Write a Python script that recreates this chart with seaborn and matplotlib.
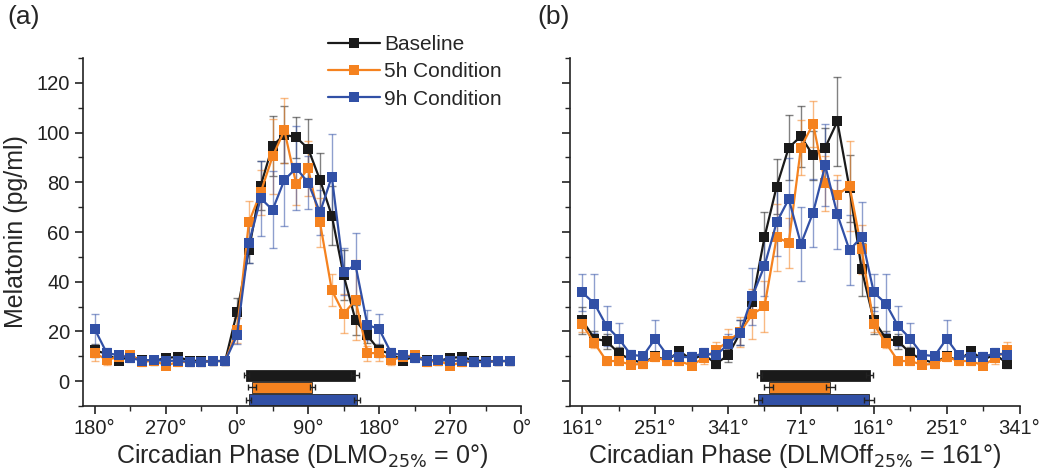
import numpy as np
import pandas as pd
import matplotlib
matplotlib.use('Agg')
import matplotlib.pyplot as plt
from matplotlib.ticker import MultipleLocator
import seaborn as sns

# phase grid, 15 degree steps, double plotted from -180 to 345
phase = np.arange(-180, 360, 15)

conditions = ['Baseline', '5h Condition', '9h Condition']
colors = ['#1a1a1a', '#f5821f', '#3150a6']

# panel (a): aligned to DLMO25%
a_base = [12.4, 11.0, 8.3, 10.0, 8.6, 8.1, 9.4, 9.7, 8.3, 8.1, 8.1, 8.1,
          27.8, 52.7, 78.7, 94.7, 99.2, 98.1, 93.6, 81.0, 66.6, 42.6, 24.5, 18.4,
          12.4, 11.0, 8.3, 10.0, 8.6, 8.1, 9.4, 9.7, 8.3, 8.1, 8.1, 8.1]
a_base_err = [2.5, 2, 1.5, 1.5, 1.5, 1.5, 1.5, 1.5, 1.5, 1.5, 1.5, 1.5,
              5.7, 5, 10, 12, 11.4, 8.2, 12, 10.8, 12, 10, 6, 3,
              2.5, 2, 1.5, 1.5, 1.5, 1.5, 1.5, 1.5, 1.5, 1.5, 1.5, 1.5]
a_5h = [11.3, 8.6, 9.7, 10.6, 7.7, 8.3, 6.3, 7.7, 7.7, 7.7, 8.1, 8.1,
        20.4, 63.9, 76.0, 90.4, 100.9, 79.2, 85.6, 63.9, 36.6, 27.2, 32.6, 11.3,
        11.3, 8.6, 9.7, 10.6, 7.7, 8.3, 6.3, 7.7, 7.7, 7.7, 8.1, 8.1]
a_5h_err = [3, 2, 1.5, 1.5, 1.5, 1.5, 1.5, 1.5, 1.5, 1.5, 1.5, 1.5,
            5, 8.7, 9, 15, 13, 8.5, 11, 10, 6.5, 8, 16, 3,
            3, 2, 1.5, 1.5, 1.5, 1.5, 1.5, 1.5, 1.5, 1.5, 1.5, 1.5]
a_9h = [20.9, 11.4, 10.4, 9.3, 8.3, 8.6, 8.1, 8.3, 7.7, 7.7, 8.1, 8.1,
        18.4, 55.4, 73.6, 68.9, 81.0, 85.7, 79.9, 67.9, 82.3, 44.0, 46.7, 22.7,
        20.9, 11.4, 10.4, 9.3, 8.3, 8.6, 8.1, 8.3, 7.7, 7.7, 8.1, 8.1]
a_9h_err = [6.3, 2, 1.5, 1.5, 1.5, 1.5, 1.5, 1.5, 1.5, 1.5, 1.5, 1.5,
            3.5, 8, 15, 15.5, 18.5, 17, 10.8, 9, 17, 9.5, 13, 6,
            6.3, 2, 1.5, 1.5, 1.5, 1.5, 1.5, 1.5, 1.5, 1.5, 1.5, 1.5]

# panel (b): aligned to DLMOff25%
b_base = [24.5, 17.1, 16.1, 11.3, 8.6, 7.4, 10.0, 8.3, 12.1, 8.6, 10.8, 7.0,
          10.4, 19.5, 31.9, 57.9, 78.3, 94.0, 98.5, 90.8, 94.0, 104.5, 77.6, 45.0,
          24.5, 17.1, 16.1, 11.3, 8.6, 7.4, 10.0, 8.3, 12.1, 8.6, 10.8, 7.0]
b_base_err = [5.5, 3, 3, 2.5, 1.5, 1.5, 1.5, 1.5, 1.5, 1.5, 1.5, 1.5,
              2.5, 5, 4, 10, 11, 13, 12.4, 10, 8, 18, 13.5, 10.7,
              5.5, 3, 3, 2.5, 1.5, 1.5, 1.5, 1.5, 1.5, 1.5, 1.5, 1.5]
b_5h = [22.9, 15.3, 8.1, 8.1, 6.6, 7.0, 9.7, 8.1, 8.1, 6.3, 9.4, 12.4,
        16.1, 19.8, 26.9, 30.1, 57.9, 55.7, 94.0, 103.6, 79.6, 74.9, 78.6, 53.0,
        22.9, 15.3, 8.1, 8.1, 6.6, 7.0, 9.7, 8.1, 8.1, 6.3, 9.4, 12.4]
b_5h_err = [3, 2, 1.5, 1.5, 1.5, 1.5, 1.5, 1.5, 1.5, 1.5, 2.5, 3.5,
            5, 6, 10, 10.4, 13.5, 10, 11, 9.3, 11, 8, 18, 10,
            3, 2, 1.5, 1.5, 1.5, 1.5, 1.5, 1.5, 1.5, 1.5, 2.5, 3.5]
b_9h = [35.7, 31.2, 22.2, 17.1, 10.6, 10.1, 17.1, 10.4, 9.7, 9.7, 11.3, 10.4,
        14.8, 19.5, 34.2, 46.4, 63.9, 73.3, 55.2, 67.8, 86.8, 67.1, 52.7, 58.1,
        35.7, 31.2, 22.2, 17.1, 10.6, 10.1, 17.1, 10.4, 9.7, 9.7, 11.3, 10.4]
b_9h_err = [7.6, 11.8, 8, 6.3, 2, 1.5, 7.4, 1.5, 1.5, 2, 2, 1.5,
            4, 5, 11.4, 12, 13.5, 16.5, 15, 13.7, 16.5, 14, 14, 14,
            7.6, 11.8, 8, 6.3, 2, 1.5, 7.4, 1.5, 1.5, 2, 2, 1.5]

# onset / offset bars (start, end, sem)
a_start = [12, 19, 15]
a_start_err = [3, 4.5, 3]
a_end = [149, 95.5, 152]
a_end_err = [4.8, 3.5, 4]
b_start = [39, 50, 37]
b_start_err = [3.4, 6, 5]
b_end = [175, 126.5, 174]
b_end_err = [4.3, 5.4, 6]
bar_y = [2.3, -2.5, -7.4]

a_ticklabels = ['180°', '270°', '0°', '90°', '180°', '270', '0°']
b_ticklabels = ['161°', '251°', '341°', '71°', '161°', '251°', '341°']

sns.set_style('ticks')
plt.rcParams['font.family'] = ['Liberation Sans', 'DejaVu Sans']

fig = plt.figure(figsize=(10.5, 4.76), dpi=100)
ax_a = fig.add_axes([0.079, 0.147, 0.4176, 0.731])
ax_b = fig.add_axes([0.543, 0.147, 0.428, 0.731])


def draw_panel(ax, series, errs, starts, start_errs, ends, end_errs, ticklabels):
    df = pd.DataFrame({
        'phase': np.tile(phase, 3),
        'mel': np.concatenate(series),
        'cond': np.repeat(conditions, len(phase)),
    })
    for vals, err, c in zip(series, errs, colors):
        ax.errorbar(phase, vals, yerr=err, fmt='none', ecolor=c, alpha=0.55,
                    elinewidth=1.0, capsize=3, capthick=1.0, zorder=1)
    sns.lineplot(data=df, x='phase', y='mel', hue='cond', hue_order=conditions,
                 palette=colors, marker='s', markersize=6.5, markeredgewidth=0,
                 linewidth=1.6, ax=ax, legend=True, zorder=3)
    for s, se, e, ee, y, c in zip(starts, start_errs, ends, end_errs, bar_y, colors):
        ax.barh(y, e - s, left=s, height=4.6, color=c, edgecolor='#222222',
                linewidth=0.6, zorder=2)
        ax.errorbar([s, e], [y, y], xerr=[se, ee], fmt='none', ecolor='#222222',
                    elinewidth=1.0, capsize=2.5, capthick=1.0, zorder=2)
    ax.set_xlim(-195, 360)
    ax.set_ylim(-10, 130)
    ax.set_xticks(np.arange(-180, 361, 90))
    ax.set_xticklabels(ticklabels)
    ax.xaxis.set_minor_locator(MultipleLocator(45))
    ax.set_yticks(np.arange(0, 121, 20))
    ax.yaxis.set_minor_locator(MultipleLocator(10))
    ax.tick_params(which='major', direction='out', length=6, width=1.2,
                   labelsize=14.5, colors='#222222')
    ax.tick_params(which='minor', direction='out', length=3.5, width=1.0)
    for sp in ['left', 'bottom']:
        ax.spines[sp].set_linewidth(1.2)
        ax.spines[sp].set_color('#222222')
    sns.despine(ax=ax)
    ax.set_ylabel('')


draw_panel(ax_a, [a_base, a_5h, a_9h], [a_base_err, a_5h_err, a_9h_err],
           a_start, a_start_err, a_end, a_end_err, a_ticklabels)
draw_panel(ax_b, [b_base, b_5h, b_9h], [b_base_err, b_5h_err, b_9h_err],
           b_start, b_start_err, b_end, b_end_err, b_ticklabels)

ax_b.set_yticklabels([])
ax_b.get_legend().remove()
ax_a.legend(loc='upper left', bbox_to_anchor=(0.54, 1.09), frameon=False,
            fontsize=15, handlelength=2.5, handletextpad=0.2,
            labelspacing=0.4, borderaxespad=0)

ax_a.set_ylabel('Melatonin (pg/ml)', fontsize=18, labelpad=6)
ax_a.set_xlabel('Circadian Phase (DLMO$_{25\\%}$ = 0°)', fontsize=18, labelpad=3)
ax_b.set_xlabel('Circadian Phase (DLMOff$_{25\\%}$ = 161°)', fontsize=18, labelpad=3)

fig.text(0.007, 0.965, '(a)', fontsize=19, va='center')
fig.text(0.512, 0.965, '(b)', fontsize=19, va='center')

fig.savefig('out.png', dpi=100)
